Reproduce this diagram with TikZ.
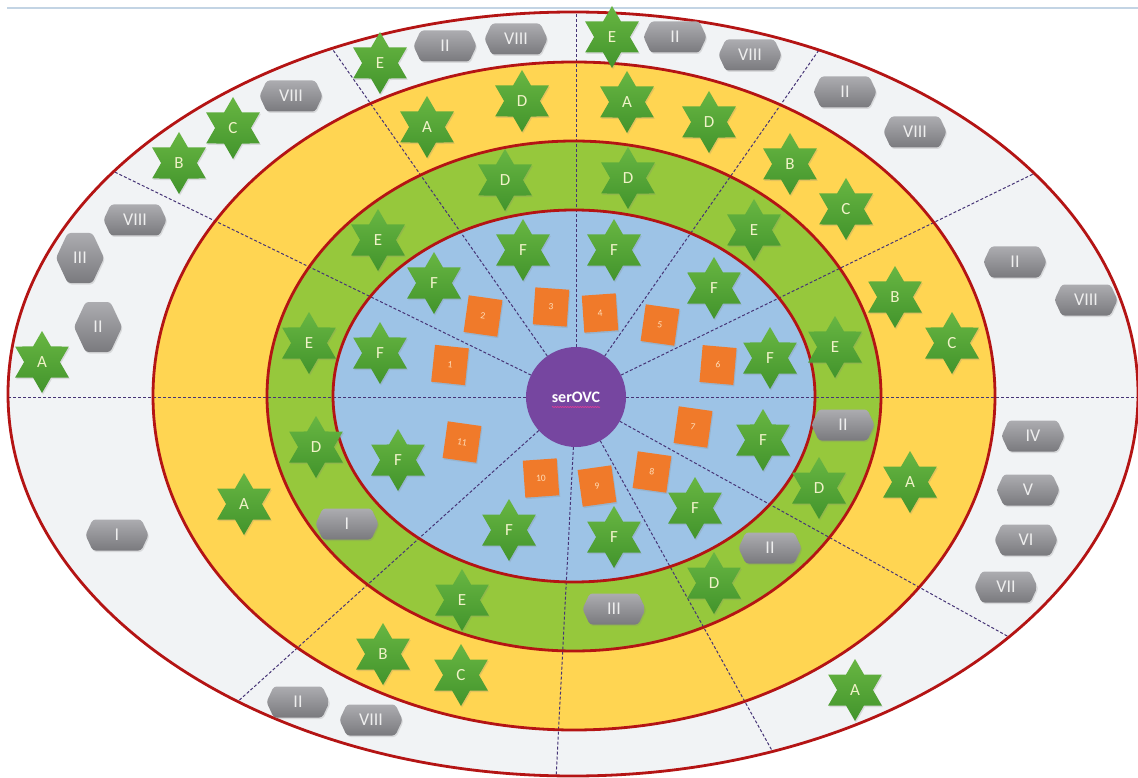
\documentclass[tikz,border=0pt]{standalone}
\usepackage{fontspec}
\setmainfont{Carlito}
\usetikzlibrary{shapes.geometric,shapes.symbols,decorations.pathmorphing,calc,shadows}
\definecolor{ringwhite}{RGB}{241,243,245}
\definecolor{ringyellow}{RGB}{255,213,82}
\definecolor{ringgreen}{RGB}{150,200,60}
\definecolor{ringblue}{RGB}{157,195,230}
\definecolor{ringred}{RGB}{180,20,20}
\definecolor{raycol}{RGB}{70,52,118}
\definecolor{corepurple}{RGB}{118,70,160}
\definecolor{sqorange}{RGB}{240,122,42}
\definecolor{sqtext}{RGB}{255,222,185}
\definecolor{startop}{RGB}{104,182,66}
\definecolor{starbot}{RGB}{66,148,44}
\definecolor{startext}{RGB}{240,242,200}
\definecolor{badgetop}{RGB}{172,172,176}
\definecolor{badgebot}{RGB}{122,122,126}
\definecolor{badgetext}{RGB}{238,238,238}
\definecolor{topline}{RGB}{195,212,228}
\definecolor{spellpink}{RGB}{235,60,150}
\tikzset{
  ringline/.style={draw=ringred, line width=2.8pt},
  ray/.style={draw=raycol, line width=1pt, dash pattern=on 3pt off 2pt},
  softshadow/.style={drop shadow={opacity=0.22, shadow xshift=1pt, shadow yshift=-1.5pt}},
  star6/.style={star, star points=6, star point ratio=1.732, minimum size=62pt,
    inner sep=0pt, top color=startop, bottom color=starbot, draw=none, softshadow,
    text=startext, font=\fontsize{17}{17}\selectfont},
  badge/.style={signal, signal to=east and west, signal pointer angle=130,
    minimum width=63pt, minimum height=31pt, inner sep=0pt, rounded corners=3pt,
    top color=badgetop, bottom color=badgebot, draw=none, softshadow,
    text=badgetext, font=\fontsize{18}{18}\selectfont},
  tallbadge/.style={badge, minimum width=48pt, minimum height=50pt},
  sq/.style={rectangle, minimum width=34pt, minimum height=37pt, inner sep=0pt,
    fill=sqorange, softshadow, text=sqtext, font=\fontsize{9.5}{9.5}\selectfont},
  core/.style={circle, fill=corepurple, minimum size=100pt, inner sep=0pt,
    text=white, font=\bfseries\fontsize{16}{16}\selectfont},
}
\begin{document}
\begin{tikzpicture}[x=1pt,y=-1pt]
\useasboundingbox (0,0) rectangle (1138,778);
\fill[white] (0,0) rectangle (1138,778);
\draw[topline, line width=1.5pt] (7,8) -- (1138,8);
% rings
\fill[ringwhite] (573,394) ellipse [x radius=565, y radius=382];
\fill[ringyellow] (574,396) ellipse [x radius=421, y radius=334];
\fill[ringgreen] (574,396) ellipse [x radius=307, y radius=255];
\fill[ringblue] (574,396) ellipse [x radius=241, y radius=186];
% rays
\coordinate (c) at (576,397);
\begin{scope}
\clip (573,394) ellipse [x radius=565, y radius=382];
\foreach \a in {0,26,55,90,125,154,180,222,267,299,331}
  \draw[ray] (c) -- ++(-\a:800);
\end{scope}
% ring outlines
\draw[ringline] (573,394) ellipse [x radius=565, y radius=382];
\draw[ringline] (574,396) ellipse [x radius=421, y radius=334];
\draw[ringline] (574,396) ellipse [x radius=307, y radius=255];
\draw[ringline] (574,396) ellipse [x radius=241, y radius=186];
% core
\node[core] (core) at (c) {serOVC};
\draw[spellpink, line width=0.6pt, decorate, decoration={snake, amplitude=0.5pt, segment length=2.5pt}]
  ($(core.center)+(-24,10)$) -- ($(core.center)+(24,10)$);
% squares
\node[sq, rotate=-6] (q1) at (450,365) {1};
\node[sq, rotate=-8] (q2) at (483,316) {2};
\node[sq, rotate=-4] (q3) at (551,307) {3};
\node[sq, rotate=4] (q4) at (600,313) {4};
\node[sq, rotate=-8] (q5) at (660,325) {5};
\node[sq, rotate=-5] (q6) at (718,365) {6};
\node[sq, rotate=-8] (q7) at (693,427) {7};
\node[sq, rotate=-8] (q8) at (652,472) {8};
\node[sq, rotate=8] (q9) at (597,486) {9};
\node[sq, rotate=4] (q10) at (541,478) {10};
\node[sq, rotate=-8] (q11) at (462,442) {11};
% stars: outer ring
\node[star6] (o1) at (380,63) {E};
\node[star6] (o2) at (612,37) {E};
\node[star6] (o3) at (233,128) {C};
\node[star6] (o4) at (179,163) {B};
\node[star6] (o5) at (42,362) {A};
\node[star6] (o6) at (855,690) {A};
% stars: yellow ring
\node[star6] (y1) at (427,127) {A};
\node[star6] (y2) at (522,101) {D};
\node[star6] (y3) at (627,102) {A};
\node[star6] (y4) at (709,122) {D};
\node[star6] (y5) at (790,164) {B};
\node[star6] (y6) at (846,209) {C};
\node[star6] (y7) at (895,297) {B};
\node[star6] (y8) at (952,343) {C};
\node[star6] (y9) at (910,482) {A};
\node[star6] (y10) at (244,504) {A};
\node[star6] (y11) at (383,654) {B};
\node[star6] (y12) at (461,675) {C};
% stars: green ring
\node[star6] (g1) at (505,180) {D};
\node[star6] (g2) at (628,178) {D};
\node[star6] (g3) at (378,240) {E};
\node[star6] (g4) at (754,230) {E};
\node[star6] (g5) at (309,343) {E};
\node[star6] (g6) at (835,347) {E};
\node[star6] (g7) at (316,447) {D};
\node[star6] (g8) at (819,488) {D};
\node[star6] (g9) at (462,600) {E};
\node[star6] (g10) at (714,583) {D};
% stars: blue ring
\node[star6] (f1) at (523,250) {F};
\node[star6] (f2) at (614,250) {F};
\node[star6] (f3) at (434,283) {F};
\node[star6] (f4) at (714,288) {F};
\node[star6] (f5) at (380,353) {F};
\node[star6] (f6) at (770,358) {F};
\node[star6] (f7) at (398,460) {F};
\node[star6] (f8) at (763,440) {F};
\node[star6] (f9) at (509,530) {F};
\node[star6] (f10) at (614,537) {F};
\node[star6] (f11) at (695,508) {F};
% badges
\node[badge] (b1) at (445,46) {II};
\node[badge] (b2) at (516,39) {VIII};
\node[badge] (b3) at (291,96) {VIII};
\node[badge] (b4) at (135,220) {VIII};
\node[tallbadge] (b5) at (80,258) {III};
\node[tallbadge] (b6) at (98,327) {II};
\node[badge] (b7) at (675,37) {II};
\node[badge] (b8) at (750,55) {VIII};
\node[badge] (b9) at (845,92) {II};
\node[badge] (b10) at (915,132) {VIII};
\node[badge] (b11) at (1015,262) {II};
\node[badge] (b12) at (1086,300) {VIII};
\node[badge] (b13) at (843,425) {II};
\node[badge] (b14) at (1033,436) {IV};
\node[badge] (b15) at (1028,490) {V};
\node[badge] (b16) at (1026,540) {VI};
\node[badge] (b17) at (1006,587) {VII};
\node[badge] (b18) at (770,548) {II};
\node[badge] (b19) at (614,609) {III};
\node[badge] (b20) at (347,524) {I};
\node[badge] (b21) at (117,535) {I};
\node[badge] (b22) at (298,702) {II};
\node[badge] (b23) at (371,720) {VIII};
\end{tikzpicture}
\end{document}
